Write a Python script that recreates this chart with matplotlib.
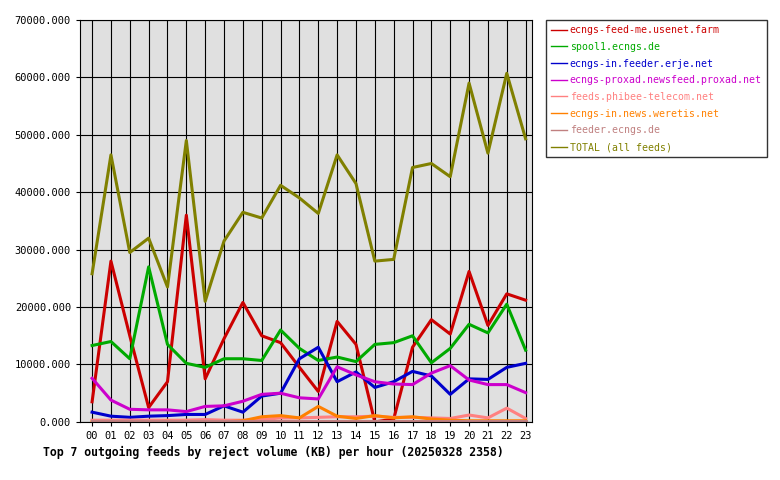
import numpy as np
import matplotlib.pyplot as plt

HOURS = [f"{h:02d}" for h in range(24)]

FEED_NAMES = [
    "ecngs-feed-me.usenet.farm",
    "spool1.ecngs.de",
    "ecngs-in.feeder.erje.net",
    "ecngs-proxad.newsfeed.proxad.net",
    "feeds.phibee-telecom.net",
    "ecngs-in.news.weretis.net",
    "feeder.ecngs.de",
    "TOTAL (all feeds)",
]
FEED_COLORS = ["#cc0000", "#00aa00", "#0000cc", "#cc00cc",
               "#ff8080", "#ff8000", "#c08080", "#808000"]

usenet_farm = [3500, 28000, 15000, 2500, 7000, 36000, 7500, 14500, 20800, 15000, 13800, 9500,
               5300, 17500, 13500, 0, 500, 13000, 17800, 15300, 26200, 16800, 22300, 21200]
spool1 = [13300, 14000, 11000, 27000, 13500, 10200, 9500, 11000, 11000, 10700, 16000, 12800,
          10700, 11300, 10500, 13500, 13800, 15000, 10300, 12800, 17000, 15500, 20500, 12500]
erje = [1700, 1000, 800, 1000, 1100, 1300, 1300, 2800, 1700, 4500, 5000, 11000,
        13000, 7000, 8700, 6000, 7000, 8800, 8000, 4800, 7500, 7400, 9500, 10200]
proxad = [7600, 3800, 2200, 2100, 2100, 1800, 2700, 2800, 3600, 4800, 5000, 4200,
          4000, 9600, 8200, 7000, 6600, 6500, 8500, 9800, 7300, 6500, 6500, 5100]
phibee = [300, 300, 300, 300, 300, 300, 400, 300, 300, 400, 700, 700,
          800, 900, 900, 1000, 800, 800, 700, 600, 1200, 700, 2400, 600]
weretis = [0, 0, 0, 0, 100, 0, 0, 0, 200, 900, 1100, 700,
           2700, 1000, 600, 1100, 700, 900, 500, 300, 200, 200, 200, 200]
ecngs_de = [200] * 24
total = [25800, 46500, 29500, 32000, 23500, 49000, 21000, 31500, 36500, 35500, 41200, 39000,
         36300, 46500, 41500, 28000, 28300, 44300, 45000, 42700, 59000, 46800, 60700, 49300]

SERIES = [usenet_farm, spool1, erje, proxad, phibee, weretis, ecngs_de, total]

plt.rcParams["font.family"] = "DejaVu Sans Mono"

fig = plt.figure(figsize=(7.8, 4.8), dpi=100)
ax = fig.add_axes([0.1026, 0.121, 0.579, 0.8375])
ax.set_facecolor("#e0e0e0")

x = np.arange(len(HOURS))
for name, vals, col in zip(FEED_NAMES, SERIES, FEED_COLORS):
    ax.plot(x, vals, color=col, lw=2.2, label=name)

ax.set_xlim(-0.64, 23.32)
ax.set_ylim(0, 70000)
ax.set_xticks(x)
ax.set_xticklabels(HOURS, fontsize=7.5)
ax.set_yticks(range(0, 70001, 10000))
ax.set_yticklabels([f"{v:.3f}" for v in range(0, 70001, 10000)], fontsize=7.5)
ax.grid(True, color="black", lw=0.8)
ax.set_axisbelow(True)
ax.tick_params(length=3)

leg = fig.legend(*ax.get_legend_handles_labels(), loc="upper left",
                 bbox_to_anchor=(0.7, 0.958), fontsize=7.1,
                 frameon=True, fancybox=False, handlelength=1.6, handletextpad=0.3,
                 borderaxespad=0, labelspacing=0.68, borderpad=0.5)
leg.get_frame().set_edgecolor("black")
for txt, col in zip(leg.get_texts(), FEED_COLORS):
    txt.set_color(col)
for line in leg.get_lines():
    line.set_linewidth(1)

fig.text(0.055, 0.058, "Top 7 outgoing feeds by reject volume (KB) per hour (20250328 2358)",
         fontsize=8.3, fontweight="bold", va="center")

fig.savefig("out.png", dpi=100)
